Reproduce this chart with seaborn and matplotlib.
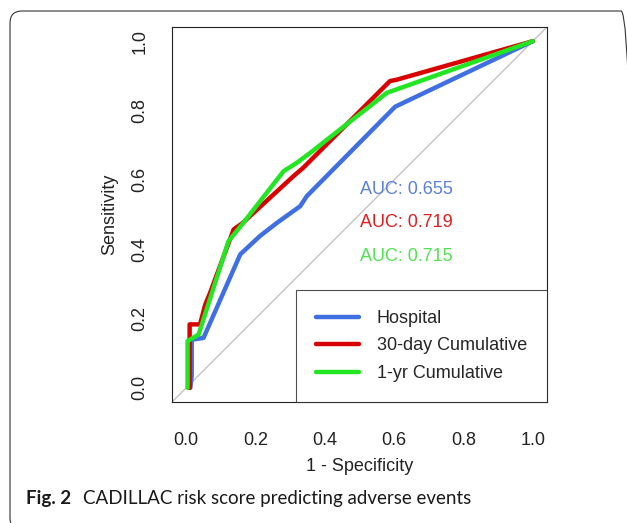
import pandas as pd
import matplotlib.pyplot as plt
import matplotlib.patches as mpatches
import matplotlib.transforms as mtransforms
import seaborn as sns

# ROC curves (1 - specificity, sensitivity)
hosp_fpr = [0.012, 0.016, 0.016, 0.050, 0.156, 0.213, 0.262, 0.329, 0.348, 0.603, 1.0]
hosp_tpr = [0.000, 0.034, 0.139, 0.144, 0.385, 0.438, 0.476, 0.524, 0.553, 0.811, 1.0]

d30_fpr = [0.010, 0.010, 0.040, 0.055, 0.069, 0.137, 0.161, 0.310, 0.338, 0.588, 0.608, 1.0]
d30_tpr = [0.000, 0.183, 0.183, 0.240, 0.274, 0.457, 0.474, 0.611, 0.635, 0.885, 0.889, 1.0]

yr1_fpr = [0.004, 0.004, 0.036, 0.122, 0.161, 0.281, 0.319, 0.358, 0.579, 1.0]
yr1_tpr = [0.000, 0.135, 0.154, 0.423, 0.471, 0.625, 0.649, 0.678, 0.851, 1.0]

models = ['Hospital', '30-day Cumulative', '1-yr Cumulative']
auc_labels = ['AUC: 0.655', 'AUC: 0.719', 'AUC: 0.715']
auc_y = [0.572, 0.476, 0.378]
colors = ['#3f6fe0', '#d90000', '#22e622']
text_colors = ['#5a80dc', '#e01c1c', '#4fe44f']
ticks = [0.0, 0.2, 0.4, 0.6, 0.8, 1.0]
tick_labels = ['0.0', '0.2', '0.4', '0.6', '0.8', '1.0']

frames = []
for name, fx, ty in zip(models, [hosp_fpr, d30_fpr, yr1_fpr], [hosp_tpr, d30_tpr, yr1_tpr]):
    frames.append(pd.DataFrame({'fpr': fx, 'tpr': ty, 'model': name}))
df = pd.concat(frames, ignore_index=True)

sns.set_style('white')
plt.rcParams['font.family'] = ['Liberation Sans', 'DejaVu Sans']
sans = ['Liberation Sans', 'DejaVu Sans']

fig = plt.figure(figsize=(6.27, 5.23), dpi=100)
ax = fig.add_axes([0.2748, 0.2319, 0.5971, 0.7159])

# diagonal reference line
ax.axline((0, 0), (1, 1), color='#bdbdbd', lw=0.9, zorder=1)

sns.lineplot(data=df, x='fpr', y='tpr', hue='model', hue_order=models,
             palette=colors, sort=False, estimator=None, lw=3.2, ax=ax, zorder=3)

for lab, yy, c in zip(auc_labels, auc_y, text_colors):
    ax.text(0.502, yy, lab, color=c, fontsize=13, ha='left', va='center', family=sans)

ax.set_xlim(-0.04, 1.04)
ax.set_ylim(-0.04, 1.04)
ax.set_xticks(ticks)
ax.set_xticklabels(tick_labels, family=sans)
ax.set_yticks(ticks)
ax.set_yticklabels(tick_labels, rotation=90, va='center', family=sans)
ax.tick_params(axis='both', direction='out', length=8, width=0.8, color='#222222',
               labelsize=13, labelcolor='#222222')
ax.tick_params(axis='x', pad=14)
ax.tick_params(axis='y', pad=9)
ax.set_xlabel('1 - Specificity', fontsize=13, color='#222222', labelpad=6, family=sans)
ax.set_ylabel('Sensitivity', fontsize=13, color='#222222', labelpad=10, family=sans)
for s in ax.spines.values():
    s.set_color('#222222')
    s.set_linewidth(0.8)

h, l = ax.get_legend_handles_labels()
leg = ax.legend(h, l, loc='lower right', borderaxespad=0, fontsize=13, frameon=True,
                fancybox=False, edgecolor='#222222', handlelength=2.4,
                handletextpad=0.95, borderpad=1.1, labelspacing=0.58)
leg.get_frame().set_linewidth(0.8)
for line in leg.get_lines():
    line.set_linewidth(3.2)

# rounded panel border
frame = mpatches.FancyBboxPatch((10, -7), 623, 519, boxstyle='round,pad=0,rounding_size=12',
                                transform=mtransforms.IdentityTransform(),
                                facecolor='none', edgecolor='#333333', lw=0.8)
fig.add_artist(frame)

fig.text(26 / 627, 18.7 / 523, 'Fig. 2', fontsize=13.5, fontweight='bold',
         family=['Lato', 'DejaVu Sans'], color='#1a1a1a', va='baseline')
fig.text(83 / 627, 18.7 / 523, 'CADILLAC risk score predicting adverse events', fontsize=13.5,
         family=['Lato', 'DejaVu Sans'], color='#1a1a1a', va='baseline')

fig.savefig('out.png', dpi=100)
